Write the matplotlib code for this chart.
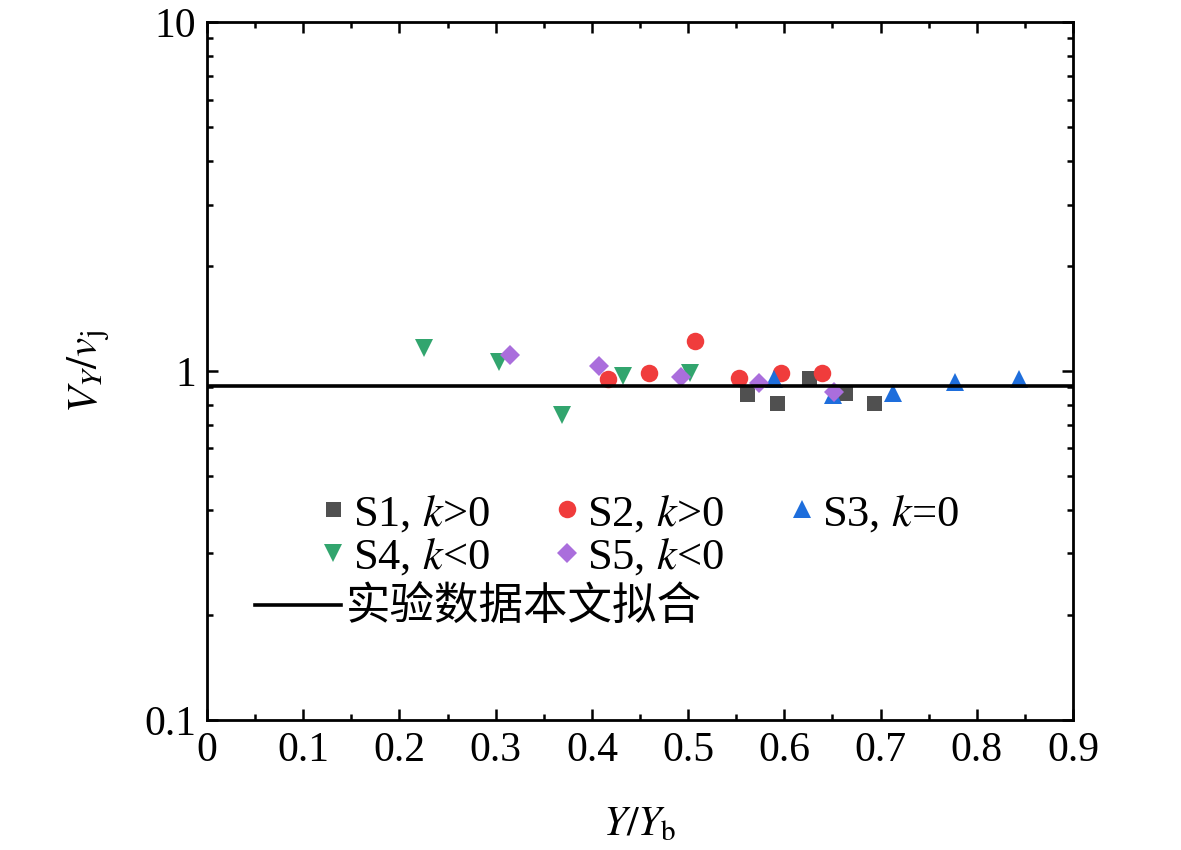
import numpy as np
import matplotlib
matplotlib.use("Agg")
from matplotlib import pyplot as plt
from matplotlib.ticker import FixedLocator, FixedFormatter, LogLocator, NullFormatter

plt.rcParams['font.family'] = ['Liberation Serif', 'Noto Sans CJK SC']
plt.rcParams['mathtext.fontset'] = 'stix'

# data
s1_x = [0.561, 0.592, 0.626, 0.663, 0.693]
s1_y = [0.857, 0.811, 0.953, 0.863, 0.811]
s2_x = [0.417, 0.459, 0.507, 0.553, 0.596, 0.639]
s2_y = [0.947, 0.985, 1.221, 0.953, 0.985, 0.985]
s3_x = [0.589, 0.651, 0.713, 0.777, 0.844]
s3_y = [0.947, 0.853, 0.863, 0.932, 0.949]
s4_x = [0.226, 0.303, 0.369, 0.432, 0.502]
s4_y = [1.162, 1.063, 0.748, 0.965, 0.99]
s5_x = [0.315, 0.407, 0.493, 0.574, 0.652]
s5_y = [1.111, 1.033, 0.963, 0.926, 0.873]
fit_x = [0.0, 0.9]
fit_y = [0.905, 0.905]

x_ticks = [0, 0.1, 0.2, 0.3, 0.4, 0.5, 0.6, 0.7, 0.8, 0.9]
x_labels = ['0', '0.1', '0.2', '0.3', '0.4', '0.5', '0.6', '0.7', '0.8', '0.9']
y_ticks = [0.1, 1, 10]
y_labels = ['0.1', '1', '10']

fig = plt.figure(figsize=(11.81, 8.5), dpi=100)
ax = fig.add_axes([0.1753, 0.153, 0.7333, 0.821])

ms = 12
h1, = ax.plot(s1_x, s1_y, 's', color='#505050', ms=ms * 0.9, mew=0, label='S1, $k$>0')
h2, = ax.plot(s2_x, s2_y, 'o', color='#f03c3c', ms=ms * 1.05, mew=0, label='S2, $k$>0')
h3, = ax.plot(s3_x, s3_y, '^', color='#1e6edc', ms=ms * 1.1, mew=0, label='S3, $k$=0')
h4, = ax.plot(s4_x, s4_y, 'v', color='#32a56e', ms=ms * 1.1, mew=0, label='S4, $k$<0')
h5, = ax.plot(s5_x, s5_y, 'D', color='#aa6edc', ms=ms * 0.85, mew=0, label='S5, $k$<0')
hl, = ax.plot(fit_x, fit_y, '-', color='black', lw=2.6, label='实验数据本文拟合')

ax.set_yscale('log')
ax.set_xlim(0, 0.9)
ax.set_ylim(0.1, 10)
ax.xaxis.set_major_locator(FixedLocator(x_ticks))
ax.xaxis.set_major_formatter(FixedFormatter(x_labels))
ax.xaxis.set_minor_locator(FixedLocator(np.arange(0.05, 0.9, 0.1)))
ax.yaxis.set_major_locator(FixedLocator(y_ticks))
ax.yaxis.set_major_formatter(FixedFormatter(y_labels))
ax.yaxis.set_minor_locator(LogLocator(base=10, subs=np.arange(2, 10)))
ax.yaxis.set_minor_formatter(NullFormatter())

for s in ax.spines.values():
    s.set_linewidth(2.0)
ax.tick_params(which='both', direction='in', top=True, right=True, width=1.8, labelsize=30)
ax.tick_params(which='major', length=8, pad=8)
ax.tick_params(which='minor', length=4)

ax.set_xlabel('$Y/Y_\\mathrm{b}$', fontsize=30, labelpad=26)
ax.set_ylabel('$V_Y/v_\\mathrm{j}$', fontsize=31, labelpad=22)

leg1 = ax.legend(handles=[h1, h4, h2, h5, h3], ncol=3, loc='upper left',
                 bbox_to_anchor=(0.130, 0.325), frameon=False, fontsize=32,
                 handlelength=0.6, handletextpad=0.15, columnspacing=1.45,
                 labelspacing=0.05, borderpad=0, borderaxespad=0)
ax.add_artist(leg1)
ax.legend(handles=[hl], loc='upper left', bbox_to_anchor=(0.055, 0.19),
          frameon=False, fontsize=32, handlelength=1.95, handletextpad=0.11,
          borderpad=0, borderaxespad=0)

fig.savefig('out.png', dpi=100)
